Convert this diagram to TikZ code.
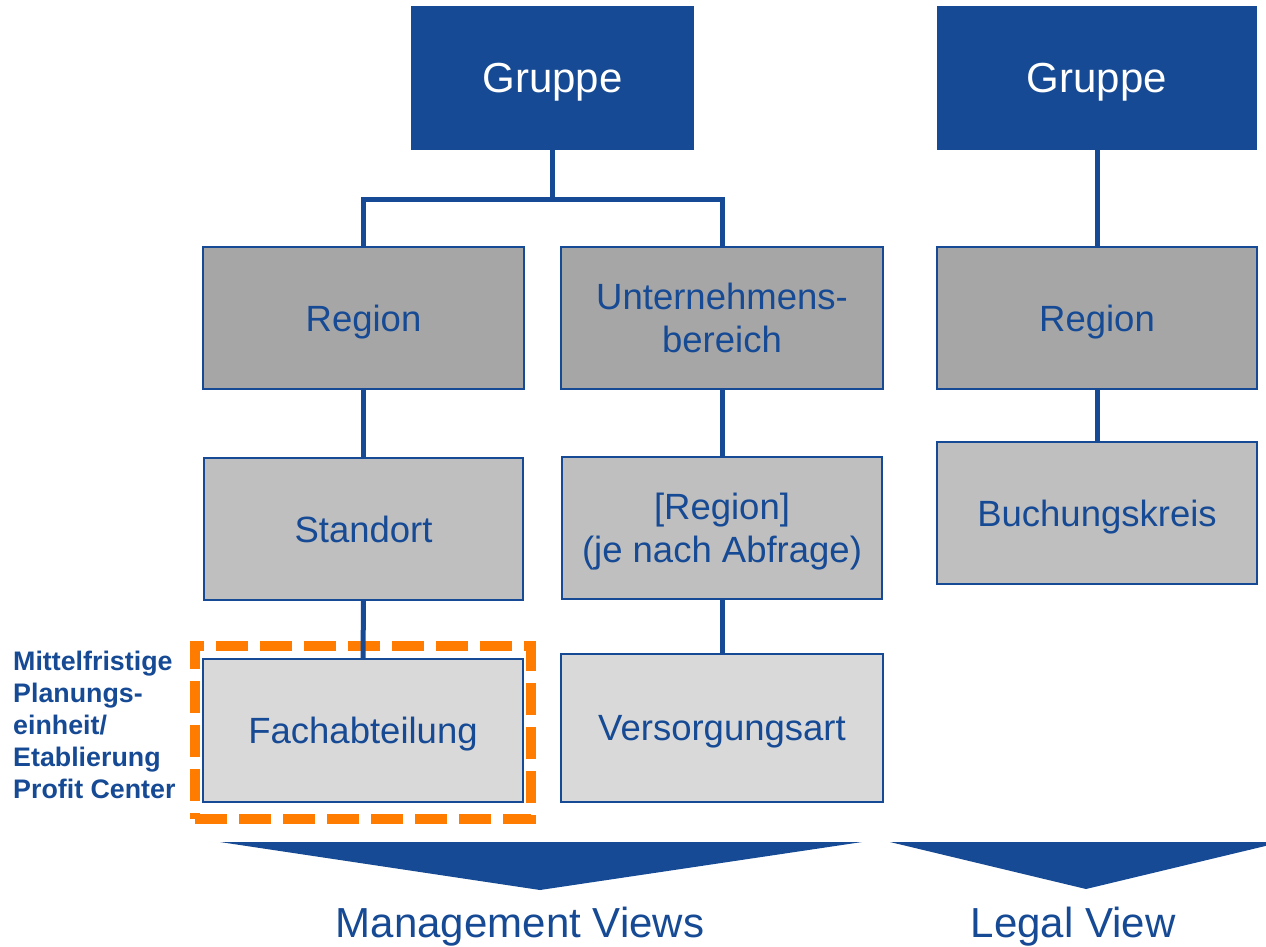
\documentclass[tikz,border=0pt]{standalone}
\usepackage{fontspec}
\setmainfont{Liberation Sans}
\definecolor{dblue}{RGB}{22,74,148}
\definecolor{gA}{RGB}{166,166,166}
\definecolor{gB}{RGB}{191,191,191}
\definecolor{gC}{RGB}{217,217,217}
\definecolor{orng}{RGB}{255,124,0}
\begin{document}
\begin{tikzpicture}[x=1pt,y=-1pt,
  basebox/.style={inner sep=0pt, outer sep=0pt, align=center, text=dblue,
    text depth=0pt, font=\fontsize{36.5}{43}\selectfont},
  topbox/.style={basebox, fill=dblue, text=white, minimum height=144pt,
    font=\fontsize{42}{50}\selectfont},
  lvlbox/.style={basebox, draw=dblue, line width=1.5pt, fill=#1, minimum height=142pt},
  conn/.style={draw=dblue, line width=5pt},
  hilite/.style={draw=orng, line width=10pt, dash pattern=on 32pt off 12pt,
    inner sep=0pt, outer sep=0pt, minimum width=336pt, minimum height=173pt},
  viewlbl/.style={text=dblue, font=\fontsize{42}{50}\selectfont, anchor=base, inner sep=0pt},
  sidelbl/.style={text=dblue, font=\bfseries\fontsize{26.8}{32}\selectfont, align=left,
    anchor=north west, inner sep=0pt}
]
\useasboundingbox (0,0) rectangle (1266,946);
\clip (0,0) rectangle (1266,946);

% highlight
\node[hilite] (hl) at (363,732.5) {};

% top boxes
\node[topbox, minimum width=283pt] (g1) at (552.5,78) {Gruppe};
\node[topbox, minimum width=320pt] (g2) at (1097,78) {Gruppe};

% level 1
\node[lvlbox=gA, minimum width=321pt] (r1) at (363.5,318) {Region};
\node[lvlbox=gA, minimum width=322pt] (ub) at (722,318) {Unternehmens-\\bereich};
\node[lvlbox=gA, minimum width=320pt] (r2) at (1097,318) {Region};

% level 2
\node[lvlbox=gB, minimum width=319pt] (st) at (363.5,529) {Standort};
\node[lvlbox=gB, minimum width=320pt] (rq) at (722,528) {[Region]\\(je nach Abfrage)};
\node[lvlbox=gB, minimum width=320pt] (bk) at (1097,513) {Buchungskreis};

% level 3
\node[lvlbox=gC, minimum width=320pt, minimum height=143pt] (fa) at (363,730.5) {Fachabteilung};
\node[lvlbox=gC, minimum width=322pt, minimum height=148pt] (va) at (722,728) {Versorgungsart};

% connectors
\coordinate (j1) at (552.5,199);
\draw[conn] (g1.south) -- (j1);
\draw[conn] (r1.north) |- (j1) -| (ub.north);
\draw[conn] (r1.south) -- (st.north);
\draw[conn] (st.south) -- (fa.north);
\draw[conn] (ub.south) -- (rq.north);
\draw[conn] (rq.south) -- (va.north);
\draw[conn] (g2.south) -- (r2.north);
\draw[conn] (r2.south) -- (bk.north);

% side label
\node[sidelbl] (sl) at (13,651) {Mittelfristige\\Planungs-\\einheit/\\Etablierung\\Profit Center};

% view arrows
\fill[dblue] (220,842) -- (862,842) -- (540,890) -- cycle;
\fill[dblue] (890,842) -- (1282,842) -- (1086,889) -- cycle;
\node[viewlbl] (mv) at (520,937) {Management Views};
\node[viewlbl] (lv) at (1073,937) {Legal View};
\end{tikzpicture}
\end{document}
